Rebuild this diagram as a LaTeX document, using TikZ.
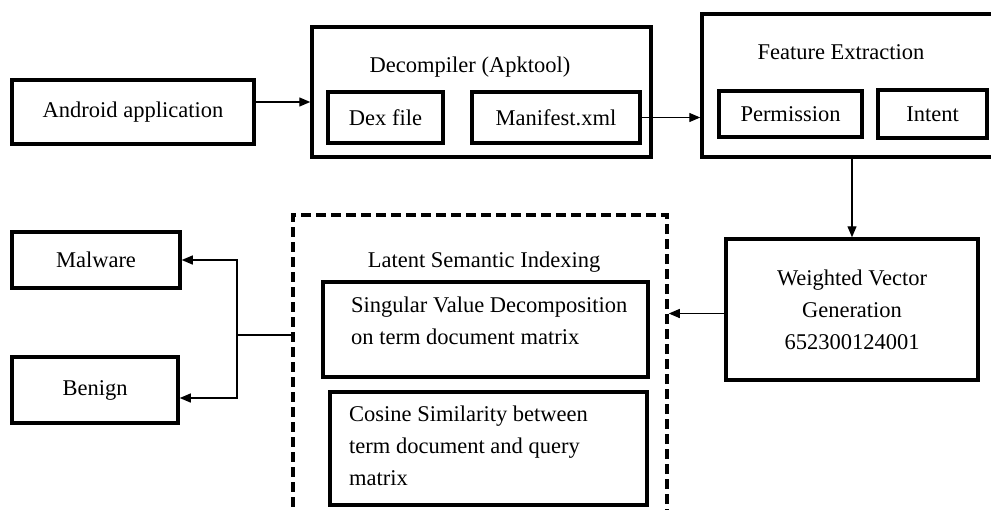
\documentclass[tikz,border=0pt]{standalone}
\usepackage{fontspec}
\setmainfont{Liberation Serif}
\usetikzlibrary{arrows.meta,calc}
\begin{document}
\begin{tikzpicture}[x=1pt,y=-1pt,
  every node/.style={font=\fontsize{22.5}{32}\selectfont},
  box/.style={draw, line width=3.5pt, rectangle, inner sep=0pt, align=center},
  dbox/.style={draw, line width=3.5pt, dash pattern=on 10pt off 5pt, rectangle, inner sep=0pt},
  txt/.style={inner sep=0pt, align=left},
  arr/.style={line width=1.3pt, -{Triangle[length=11pt,width=9pt]}},
  ln/.style={line width=1.3pt}]
\useasboundingbox[fill=white] (0,0) rectangle (991,509);
% top row
\node[box, minimum width=242pt, minimum height=64pt] (android) at (133,112) {Android application};
\node[box, minimum width=339pt, minimum height=130pt] (decomp) at (481.5,92) {};
\node[txt] (decompt) at (470,67) {Decompiler (Apktool)};
\node[box, minimum width=115pt, minimum height=51pt] (dex) at (385.5,117.5) {Dex file};
\node[box, minimum width=168pt, minimum height=51pt] (manifest) at (556,117.5) {Manifest.xml};
\node[box, minimum width=293pt, minimum height=143pt] (feature) at (848.5,85.5) {};
\node[txt] (featuret) at (841,52) {Feature Extraction};
\node[box, minimum width=143pt, minimum height=46pt] (perm) at (790.5,114) {Permission};
\node[box, minimum width=109pt, minimum height=48pt] (intent) at (932.5,114) {Intent};
% weighted
\node[box, minimum width=252pt, minimum height=141pt] (weighted) at (852,309.5) {Weighted Vector\\Generation\\652300124001};
% LSI
\node[dbox, minimum width=374pt, minimum height=305pt] (lsi) at (480,367.5) {};
\node[txt] (lsit) at (484,262) {Latent Semantic Indexing};
\node[box, minimum width=325pt, minimum height=95pt] (svd) at (485.5,329.5) {};
\node[txt, anchor=west] (svdt) at (351,321) {Singular Value Decomposition\\on term document matrix};
\node[box, minimum width=317pt, minimum height=113pt] (cosine) at (488.5,448.5) {};
\node[txt, anchor=west] (cosinet) at (349,446) {Cosine Similarity between\\term document and query\\matrix};
% outputs
\node[box, minimum width=168pt, minimum height=56pt] (malware) at (96,260) {Malware};
\node[box, minimum width=166pt, minimum height=66pt] (benign) at (95,390) {Benign};
% connectors
\draw[arr] ([yshift=10pt]android.east) -- (decomp.west |- 0,102);
\draw[arr] (manifest.east) -- (manifest.east -| feature.west);
\draw[arr] (feature.south -| weighted.north) -- (weighted.north);
\draw[arr] ([yshift=-4pt]weighted.west) -- ([yshift=-4pt]weighted.west -| lsi.east);
\coordinate (j) at (237,335);
\draw[ln] (lsi.west |- j) -- (j);
\draw[arr] (j) |- (malware.east);
\draw[arr] (j) |- ([yshift=-8pt]benign.east);
\end{tikzpicture}
\end{document}
